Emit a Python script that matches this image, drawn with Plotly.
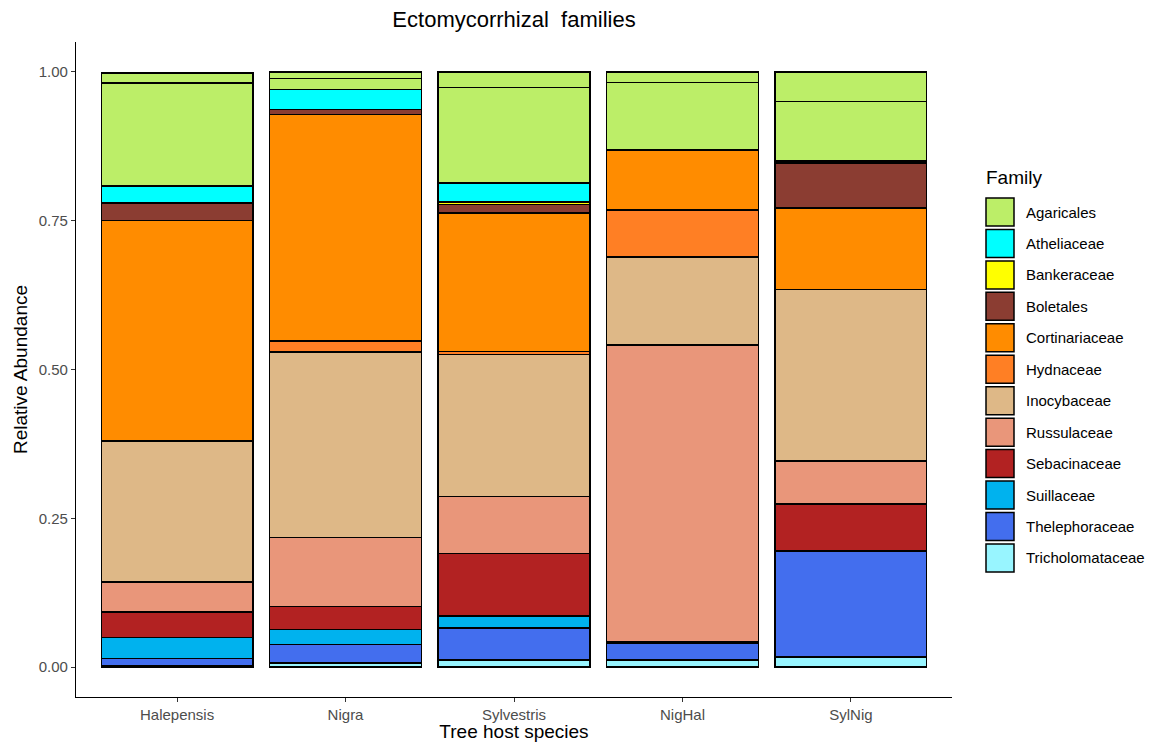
import plotly.graph_objects as go

# Tree hosts on the x axis
hosts = ["Halepensis", "Nigra", "Sylvestris", "NigHal", "SylNig"]

# Relative abundance of each OTU layer, stacked bottom to top (None = absent)
tricholomataceae = [0.003, 0.007, 0.012, 0.012, 0.017]
thelephoraceae = [0.012, 0.031, 0.054, 0.029, 0.178]
suillaceae = [0.035, 0.025, 0.020, None, None]
sebacinaceae = [0.043, 0.039, 0.105, 0.002, 0.079]
russulaceae = [0.050, 0.1155, 0.096, 0.498, 0.072]
inocybaceae = [0.237, 0.312, 0.238, 0.148, 0.288]
hydnaceae = [None, 0.018, 0.005, 0.079, None]
cortinariaceae = [0.370, 0.381, 0.233, 0.101, 0.137]
boletales_a = [0.030, 0.008, 0.014, None, 0.076]
boletales_b = [None, None, None, None, 0.003]
bankeraceae = [None, None, 0.004, None, None]
atheliaceae = [0.028, 0.034, 0.032, None, None]
agaricales_a = [0.173, 0.018, 0.161, 0.113, 0.100]
agaricales_b = [0.017, 0.0115, 0.026, 0.018, 0.050]

# Legend order and fill colours
families = ["Agaricales", "Atheliaceae", "Bankeraceae", "Boletales", "Cortinariaceae",
            "Hydnaceae", "Inocybaceae", "Russulaceae", "Sebacinaceae", "Suillaceae",
            "Thelephoraceae", "Tricholomataceae"]
family_colors = ["#BCEE68", "#00FFFF", "#FFFF00", "#8B3D32", "#FF8C00",
                 "#FF7F24", "#DEB887", "#E9967A", "#B22222", "#00B2EE",
                 "#436EEE", "#98F5FF"]
color_of = dict(zip(families, family_colors))

layers = [
    ("Tricholomataceae", tricholomataceae),
    ("Thelephoraceae", thelephoraceae),
    ("Suillaceae", suillaceae),
    ("Sebacinaceae", sebacinaceae),
    ("Russulaceae", russulaceae),
    ("Inocybaceae", inocybaceae),
    ("Hydnaceae", hydnaceae),
    ("Cortinariaceae", cortinariaceae),
    ("Boletales", boletales_a),
    ("Boletales", boletales_b),
    ("Bankeraceae", bankeraceae),
    ("Atheliaceae", atheliaceae),
    ("Agaricales", agaricales_a),
    ("Agaricales", agaricales_b),
]

FONT = "Liberation Sans, Arial, Helvetica, sans-serif"

fig = go.Figure()
for fam, vals in layers:
    fig.add_trace(go.Bar(
        x=hosts, y=vals, name=fam, showlegend=False,
        marker=dict(color=color_of[fam], line=dict(color="black", width=1.5)),
    ))

# Plot-area geometry in pixels (used to place the legend keys)
W, H = 1153, 742
L, R, T, B = 76, 201, 42, 45
pw, ph = W - L - R, H - T - B


def px_x(x):
    return (x - L) / pw


def px_y(y):
    return (H - B - y) / ph


shapes = []
annotations = []
annotations.append(dict(
    x=px_x(984), y=px_y(177), xref="paper", yref="paper", text="Family",
    showarrow=False, xanchor="left", yanchor="middle",
    font=dict(family=FONT, size=19, color="black"),
))
key_top, key_step = 198.0, 31.45
for i, fam in enumerate(families):
    y0 = key_top + i * key_step
    shapes.append(dict(
        type="rect", xref="paper", yref="paper",
        x0=px_x(986), x1=px_x(1014), y0=px_y(y0), y1=px_y(y0 + 28),
        fillcolor=color_of[fam], line=dict(color="black", width=1.5),
    ))
    annotations.append(dict(
        x=px_x(1024), y=px_y(y0 + 14), xref="paper", yref="paper", text=fam,
        showarrow=False, xanchor="left", yanchor="middle",
        font=dict(family=FONT, size=15, color="black"),
    ))

fig.update_layout(
    width=W, height=H,
    margin=dict(l=L, r=R, t=T, b=B, autoexpand=False),
    barmode="stack", bargap=0.1,
    plot_bgcolor="white", paper_bgcolor="white",
    font=dict(family=FONT, color="black"),
    title=dict(text="Ectomycorrhizal  families", x=0.5, xref="paper", xanchor="center",
               y=1 - 19 / H, yref="container", yanchor="middle",
               font=dict(family=FONT, size=22, color="black")),
    shapes=shapes, annotations=annotations,
    showlegend=False,
)
fig.update_xaxes(
    range=[-0.6, 4.6], showline=True, linecolor="black", linewidth=1.2,
    ticks="outside", ticklen=4, tickcolor="#333333", tickwidth=1.1,
    tickfont=dict(family=FONT, size=15, color="#4D4D4D"),
    title=dict(text="Tree host species", standoff=2,
               font=dict(family=FONT, size=19, color="black")),
    showgrid=False, zeroline=False, automargin=False,
)
fig.update_yaxes(
    range=[-0.05, 1.05], tickvals=[0, 0.25, 0.5, 0.75, 1.0],
    ticktext=["0.00", "0.25", "0.50", "0.75", "1.00"],
    showline=True, linecolor="black", linewidth=1.2,
    ticks="outside", ticklen=4, tickcolor="#333333", tickwidth=1.1,
    tickfont=dict(family=FONT, size=15, color="#4D4D4D"),
    title=dict(text="Relative Abundance", standoff=6,
               font=dict(family=FONT, size=19, color="black")),
    showgrid=False, zeroline=False, automargin=False,
)

fig.write_html("out.html")
